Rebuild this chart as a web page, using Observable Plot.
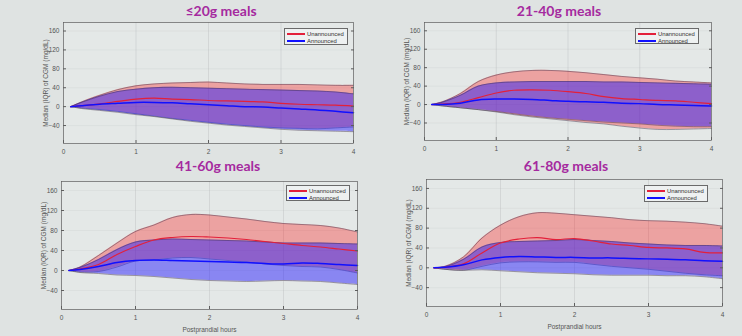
<!DOCTYPE html>
<html><head><meta charset="utf-8">
<script src="https://cdn.jsdelivr.net/npm/d3@7"></script>
<script src="https://cdn.jsdelivr.net/npm/@observablehq/plot@0.6"></script>
<style>
body{margin:0;background:#dfe3e2;}
#root{position:relative;width:742px;height:336px;overflow:hidden;background:#dfe3e2;font-family:"Liberation Sans",Arial,sans-serif;}
.panel{position:absolute;width:371px;height:168px;}
.title{position:absolute;font-family:Lato,"Open Sans",sans-serif;font-weight:700;font-size:14px;line-height:16px;color:#a52a9f;transform:translateX(-50%);white-space:nowrap;}
.legend{position:absolute;box-sizing:border-box;background:#eef1f1;border:0.8px solid #6a6a6a;font-size:5.9px;color:#333;}
.legend .row{position:absolute;left:0;height:8px;line-height:8px;white-space:nowrap;}
.legend .sw{position:absolute;left:2px;top:3px;width:18px;height:2px;}
.legend .lb{position:absolute;left:22px;top:0;}
</style></head><body><div id="root"></div>
<script>
// ---- data ----
const hours = [0.1, 0.25, 0.5, 0.75, 1, 1.25, 1.5, 1.75, 2, 2.25, 2.5, 2.75, 3, 3.25, 3.5, 3.75, 4];
const panelTitles = ["≤20g meals", "21-40g meals", "41-60g meals", "61-80g meals"];
const seriesNames = ["Unannounced", "Announced"];
const yTicks = [-40, 0, 40, 80, 120, 160];
const xTicks = [0, 1, 2, 3, 4];

// ≤20g
const p1UnannMed = [0, 2, 6, 11, 16, 18, 16, 15, 13, 12, 11, 10, 7, 5, 4, 3, 1];
const p1UnannQ1  = [0, -3, -6, -10, -15, -20, -25, -29, -33, -37, -40, -43, -45, -46, -47, -45, -43];
const p1UnannQ3  = [0, 10, 24, 36, 44, 48, 50, 51, 52, 50, 48, 47, 47, 47, 46, 45, 45];
const p1AnnMed   = [0, 2, 5, 7, 9, 9, 8, 6, 4, 2, 0, -1, -3, -5, -7, -10, -13];
const p1AnnQ1    = [0, -4, -8, -12, -17, -21, -26, -31, -35, -39, -42, -45, -48, -50, -51, -52, -53];
const p1AnnQ3    = [0, 9, 22, 32, 37, 40, 41, 40, 39, 38, 37, 36, 35, 34, 33, 31, 27];
// 21-40g
const p2UnannMed = [0, 1, 5, 15, 25, 31, 32, 31, 28, 24, 17, 13, 11, 9, 8, 5, 2];
const p2UnannQ1  = [0, -3, -7, -11, -16, -22, -27, -31, -35, -39, -42, -47, -51, -54, -54, -53, -52];
const p2UnannQ3  = [0, 6, 24, 50, 64, 71, 74, 74, 72, 69, 65, 61, 58, 55, 51, 49, 47];
const p2AnnMed   = [0, 0, 3, 10, 12, 12, 11, 9, 7, 6, 5, 3, 2, 0, -1, -2, -3];
const p2AnnQ1    = [0, -3, -7, -11, -15, -20, -25, -29, -32, -35, -38, -40, -42, -45, -47, -48, -48];
const p2AnnQ3    = [0, 5, 20, 40, 47, 49, 50, 50, 50, 50, 49, 49, 48, 47, 46, 45, 44];
// 41-60g
const p3UnannMed = [0, 3, 12, 32, 48, 61, 66, 68, 67, 65, 62, 58, 54, 50, 47, 43, 39];
const p3UnannQ1  = [0, -3, -2, 7, 19, 21, 25, 26, 23, 20, 17, 13, 10, 8, 7, 2, -5];
const p3UnannQ3  = [0, 7, 30, 55, 78, 91, 106, 112, 111, 107, 103, 98, 94, 92, 90, 85, 77];
const p3AnnMed   = [0, 2, 8, 16, 20, 21, 20, 19, 18, 17, 16, 14, 13, 15, 14, 12, 10];
const p3AnnQ1    = [0, -4, -6, -9, -10, -12, -15, -18, -20, -21, -22, -21, -20, -21, -22, -25, -28];
const p3AnnQ3    = [0, 6, 22, 42, 57, 61, 63, 62, 61, 60, 59, 57, 55, 55, 55, 54, 53];
// 61-80g
const p4UnannMed = [0, 1, 8, 30, 50, 58, 61, 57, 59, 54, 48, 45, 41, 40, 38, 31, 30];
const p4UnannQ1  = [0, -3, -5, 3, 10, 12, 12, 11, 11, 7, 3, 0, -3, -7, -11, -14, -16];
const p4UnannQ3  = [0, 3, 22, 60, 86, 103, 111, 110, 107, 104, 101, 97, 95, 94, 92, 89, 84];
const p4AnnMed   = [0, 1, 6, 16, 21, 23, 22, 21, 21, 20, 20, 19, 18, 17, 16, 14, 13];
const p4AnnQ1    = [0, -3, -5, -4, -6, -8, -10, -11, -12, -14, -15, -15, -15, -16, -16, -18, -22];
const p4AnnQ3    = [0, 2, 17, 42, 51, 53, 54, 55, 57, 55, 53, 50, 48, 46, 45, 45, 44];

// ---- layout / style ----
const panels = [
  {title: panelTitles[0], left: 0,   top: 0,   m: [22, 18, 25, 63], tx: 221, ty: 3, legend: [284, 28, 64, 17], xlab: false,
   u: [p1UnannMed, p1UnannQ1, p1UnannQ3], a: [p1AnnMed, p1AnnQ1, p1AnnQ3]},
  {title: panelTitles[1], left: 371, top: 0,   m: [22, 31, 28, 53], tx: 559, ty: 3, legend: [635, 28, 64, 16], xlab: false,
   u: [p2UnannMed, p2UnannQ1, p2UnannQ3], a: [p2AnnMed, p2AnnQ1, p2AnnQ3]},
  {title: panelTitles[2], left: 0,   top: 168, m: [13, 14, 27, 61], tx: 218, ty: 158, legend: [286, 185, 64, 16], xlab: true,
   u: [p3UnannMed, p3UnannQ1, p3UnannQ3], a: [p3AnnMed, p3AnnQ1, p3AnnQ3]},
  {title: panelTitles[3], left: 371, top: 168, m: [11, 20, 30, 55], tx: 566, ty: 158, legend: [644, 185, 64, 17], xlab: true,
   u: [p4UnannMed, p4UnannQ1, p4UnannQ3], a: [p4AnnMed, p4AnnQ1, p4AnnQ3]}
];

const redFill = "#ff0000", blueFill = "#1a10ff";
const redLine = "#e3203a", blueLine = "#1010ff";
const edge = "#3b2a45";

function rows(arrs) {
  return hours.map((h, i) => ({h, med: arrs[0][i], q1: arrs[1][i], q3: arrs[2][i]}));
}

const root = document.getElementById("root");

for (const p of panels) {
  const U = rows(p.u), A = rows(p.a);
  const curve = "catmull-rom";
  const chart = Plot.plot({
    width: 371, height: 168,
    marginTop: p.m[0], marginRight: p.m[1], marginBottom: p.m[2], marginLeft: p.m[3],
    style: {background: "transparent", fontFamily: "Liberation Sans, Arial, sans-serif", fontSize: "6.5px", color: "#4a4a4a"},
    x: {domain: [0, 4]},
    y: {domain: [-78, 178]},
    marks: [
      Plot.frame({fill: "#e4e8e7"}),
      Plot.gridX({ticks: [1, 2, 3], stroke: "#aeb3b3", strokeOpacity: 0.55, strokeWidth: 0.6}),
      Plot.gridY({ticks: yTicks, stroke: "#aeb3b3", strokeOpacity: 0.25, strokeWidth: 0.6}),
      Plot.areaY(U, {x: "h", y1: "q1", y2: "q3", fill: redFill, fillOpacity: 0.3, curve}),
      Plot.lineY(U, {x: "h", y: "q1", stroke: edge, strokeWidth: 0.6, strokeOpacity: 0.75, curve}),
      Plot.lineY(U, {x: "h", y: "q3", stroke: edge, strokeWidth: 0.6, strokeOpacity: 0.75, curve}),
      Plot.areaY(A, {x: "h", y1: "q1", y2: "q3", fill: blueFill, fillOpacity: 0.45, curve}),
      Plot.lineY(A, {x: "h", y: "q1", stroke: edge, strokeWidth: 0.6, strokeOpacity: 0.75, curve}),
      Plot.lineY(A, {x: "h", y: "q3", stroke: edge, strokeWidth: 0.6, strokeOpacity: 0.75, curve}),
      Plot.lineY(U, {x: "h", y: "med", stroke: redLine, strokeWidth: 1.2, curve}),
      Plot.lineY(A, {x: "h", y: "med", stroke: blueLine, strokeWidth: 1.5, curve}),
      Plot.frame({stroke: "#5e5e5e", strokeWidth: 0.7}),
      Plot.axisY({ticks: yTicks, tickSize: -3, tickPadding: 7, stroke: "#5e5e5e", fill: "#555",
        label: "Median (IQR) of CGM (mg/dL)", labelAnchor: "center", labelOffset: 20, labelArrow: "none"}),
      Plot.axisY({ticks: yTicks, anchor: "right", tickSize: -3, tickFormat: () => "", stroke: "#5e5e5e", label: null}),
      Plot.axisX({ticks: xTicks, tickFormat: d3.format("d"), tickSize: -3, tickPadding: 9, stroke: "#5e5e5e", fill: "#555",
        label: p.xlab ? "Postprandial hours" : null, labelAnchor: "center", labelOffset: 22, labelArrow: "none"})
    ]
  });
  const div = document.createElement("div");
  div.className = "panel";
  div.style.left = p.left + "px";
  div.style.top = p.top + "px";
  div.appendChild(chart);
  root.appendChild(div);

  const t = document.createElement("div");
  t.className = "title";
  t.textContent = p.title;
  t.style.left = p.tx + "px";
  t.style.top = p.ty + "px";
  root.appendChild(t);

  const [lx, ly, lw, lh] = p.legend;
  const lg = document.createElement("div");
  lg.className = "legend";
  Object.assign(lg.style, {left: lx + "px", top: ly + "px", width: lw + "px", height: lh + "px"});
  seriesNames.forEach((name, i) => {
    const r = document.createElement("div");
    r.className = "row";
    r.style.top = (0.5 + i * 7.5) + "px";
    r.style.width = lw + "px";
    r.innerHTML = `<div class="sw" style="background:${i === 0 ? redLine : blueLine}"></div><div class="lb">${name}</div>`;
    lg.appendChild(r);
  });
  root.appendChild(lg);
}
</script></body></html>
